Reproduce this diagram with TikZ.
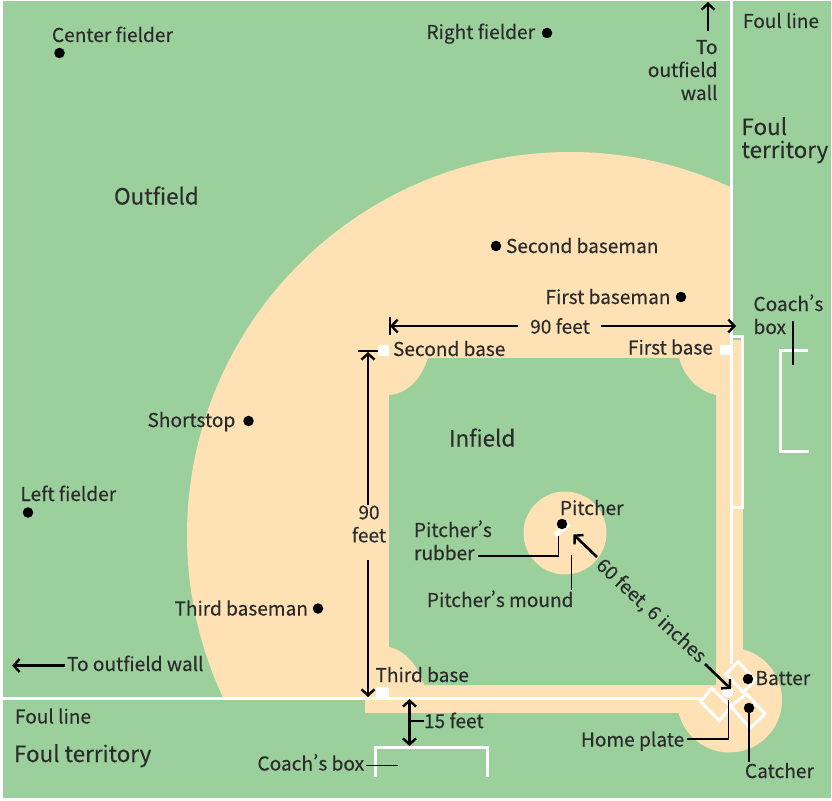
\documentclass[tikz,border=0pt]{standalone}
\usepackage{fontspec}
\setmainfont[RawFeature={+pwid},FakeBold=0.25]{Noto Sans CJK SC}
\usetikzlibrary{arrows.meta}
\definecolor{turf}{HTML}{9BD09C}
\definecolor{dirt}{HTML}{FEE1B5}
\definecolor{ink}{HTML}{2B2B2B}
\tikzset{
  lab/.style={text=ink,font=\fontsize{19.1}{23}\selectfont,inner sep=0pt,outer sep=0pt},
  big/.style={text=ink,font=\fontsize{22.4}{23}\selectfont,inner sep=0pt,outer sep=0pt},
  stack/.style={lab,align=center},
  player/.style={circle,fill=black,minimum size=10.5pt,inner sep=0pt,outer sep=0pt},
  chalk/.style={draw=white,line width=3pt},
  leader/.style={draw=black,line width=1.4pt},
  dim/.style={draw=black,line width=2.6pt},
  tip/.style={-{Straight Barb[length=6pt,width=13pt,line width=2.4pt]}},
  tips/.style={{Straight Barb[length=6pt,width=13pt,line width=2.4pt]}-{Straight Barb[length=6pt,width=13pt,line width=2.4pt]}},
}
\begin{document}
\begin{tikzpicture}[x=1pt,y=-1pt]
\useasboundingbox (0,0) rectangle (832,800);
\fill[white] (0,0) rectangle (832,800);
\fill[turf] (3,1) rectangle (831,798);

% outfield grass arc and infield skin
\begin{scope}
  \clip (0,0) rectangle (732,698);
  \fill[dirt] (570,535) circle[radius=383];
\end{scope}
\fill[dirt] (365,685) rectangle (700,713);
\fill[dirt] (716,340) rectangle (743,700);
\fill[dirt] (729.5,700) circle[radius=52.5];

% infield grass with corners cut by the base circles
\fill[turf] (389,395)
  .. controls (408,394) and (422,378) .. (428,358)
  -- (679,358) .. controls (684,378) and (700,392) .. (716,395)
  -- (716,685) -- (424,685) .. controls (418,665) and (405,650) .. (389,647) -- cycle;

% pitcher's mound
\fill[dirt] (565,533) circle[radius=41.5];
\draw[white,line width=5pt] (555,535) -- (569,524);

% foul lines and coach's boxes
\draw[chalk] (3,698) -- (701,698);
\draw[chalk] (731.5,0) -- (731.5,664);
\draw[chalk] (731.5,336.5) -- (742,336.5) -- (742,507.5) -- (731.5,507.5);
\draw[chalk] (808,350.5) -- (780.5,350.5) -- (780.5,451.5) -- (809,451.5);
\draw[chalk] (375.5,777) -- (375.5,747) -- (487,747) -- (487,777);

% batter's boxes
\draw[chalk] (738.3,661.7) -- (755,680) -- (743.3,692.3) -- (726,674) -- cycle;
\draw[chalk] (746.7,694) -- (765,714) -- (750,728.3) -- (730.7,706) -- cycle;
\draw[chalk] (711.7,688.3) -- (731,706.7) -- (719.3,720.7) -- (700.7,701.7) -- cycle;

% bases
\fill[white] (378,345) rectangle (389,356);
\fill[white] (720,345) rectangle (731,355);
\fill[white,rounded corners=2pt] (376,698) -- (376,687) -- (389,687) -- (389,698) -- cycle;
\fill[white,rounded corners=1.5pt] (722,688) -- (733,688) -- (733,696) -- (728,697) -- (722,696) -- cycle;

% players
\node[player] (cf) at (59.5,53) {};
\node[player] (rf) at (547,33) {};
\node[player] (sb) at (496,246) {};
\node[player] (fb) at (681,297) {};
\node[player] (ss) at (248.5,421) {};
\node[player] (lf) at (28,512.5) {};
\node[player] (tb) at (318,608.5) {};
\node[player] (pi) at (562,524) {};
\node[player] (bat) at (748,679) {};
\node[player] (cat) at (749,708) {};

% position labels
\node[lab,anchor=base west] at (52,42) {Center fielder};
\node[lab,anchor=base west] at (426.5,39) {Right fielder};
\node[lab,anchor=base west] at (506,253) {Second baseman};
\node[lab,anchor=base west] at (545.5,304) {First baseman};
\node[lab,anchor=base west] at (147.5,427) {Shortstop};
\node[lab,anchor=base west] at (20.5,501) {Left fielder};
\node[lab,anchor=base west] at (174.5,615.5) {Third baseman};
\node[lab,anchor=base west] at (560,515) {Pitcher};
\node[lab,anchor=base west] (batter) at (755.5,685) {Batter};
\node[lab,anchor=base west] (catcher) at (745,778) {Catcher};
\node[lab,anchor=base west] (homeplate) at (581,746.5) {Home plate};
\node[lab,anchor=base west] at (393,356) {Second base};
\node[lab,anchor=base west] at (628,354.5) {First base};
\node[lab,anchor=base west] at (375.5,682) {Third base};
\node[lab,anchor=base west] (mound) at (427,607) {Pitcher’s mound};
\node[stack,align=left,anchor=base west] (rubber) at (414,560) {Pitcher’s\\rubber};
\node[lab,anchor=base west] (wallw) at (67,671) {To outfield wall};
\node[lab,anchor=base west] at (15,723.5) {Foul line};
\node[lab,anchor=base west] at (743,28) {Foul line};
\node[lab,anchor=base west] (cboxs) at (257.5,770.5) {Coach’s box};
\node[stack,align=left,anchor=base west] (cboxe) at (753.5,334) {Coach’s\\box};
\node[lab,anchor=base west] (fifteen) at (424,728) {15 feet};
\node[stack,align=right,anchor=base east] (wallr) at (717.5,100) {To\\outfield\\wall};
\node[stack] (ninetyv) at (369,524) {90\\feet};
\node[lab] (ninetyh) at (560,326) {90 feet};
\node[lab,rotate=-43] (sixty) at (651,611) {60 feet, 6 inches};
\node[big,anchor=base west] at (114,204.5) {Outfield};
\node[big,anchor=base west] at (449,446.5) {Infield};
\node[big,anchor=base west] at (14,762) {Foul territory};
\node[big,align=left,anchor=base west] at (741.5,158) {Foul\\territory};

% leader lines
\coordinate (hpfoot) at (728.5,739);
\coordinate (hptop) at (728.5,700);
\coordinate (rubfoot) at (558.5,556);
\coordinate (rubtop) at (558.5,536);
\draw[leader] (hptop) -- (hpfoot) -- (687,739);
\draw[leader] (749,710) -- (749,762);
\draw[leader] (rubtop) -- (rubfoot) -- (478,556);
\draw[leader] (571.7,555) -- (571.7,590);
\draw[leader] (366,765.5) -- (398,765.5);
\draw[leader] (793,321) -- (793,365);
\draw[leader] (409,721) -- (424,721);

% dimension arrows
\coordinate (wtip) at (12,665.5);
\coordinate (ntip) at (708,2);
\draw[dim,tip] (65,665.5) -- (wtip);
\draw[dim,tip] (708,31) -- (ntip);
\draw[dim,tip] (518,326) -- (390,326);
\draw[dim] (390,317) -- (390,335);
\draw[dim,tip] (601,326) -- (736,326);
\draw[dim,tip] (368,505) -- (368,352);
\draw[dim] (358,351) -- (378,351);
\draw[dim,tip] (368,560) -- (368,697);
\draw[dim,tips] (409.5,699) -- (409.5,746);
\draw[dim,tip] (597,557) -- (573.5,534.5);
\draw[dim,tip] (705,664) -- (731,689);
\end{tikzpicture}
\end{document}
